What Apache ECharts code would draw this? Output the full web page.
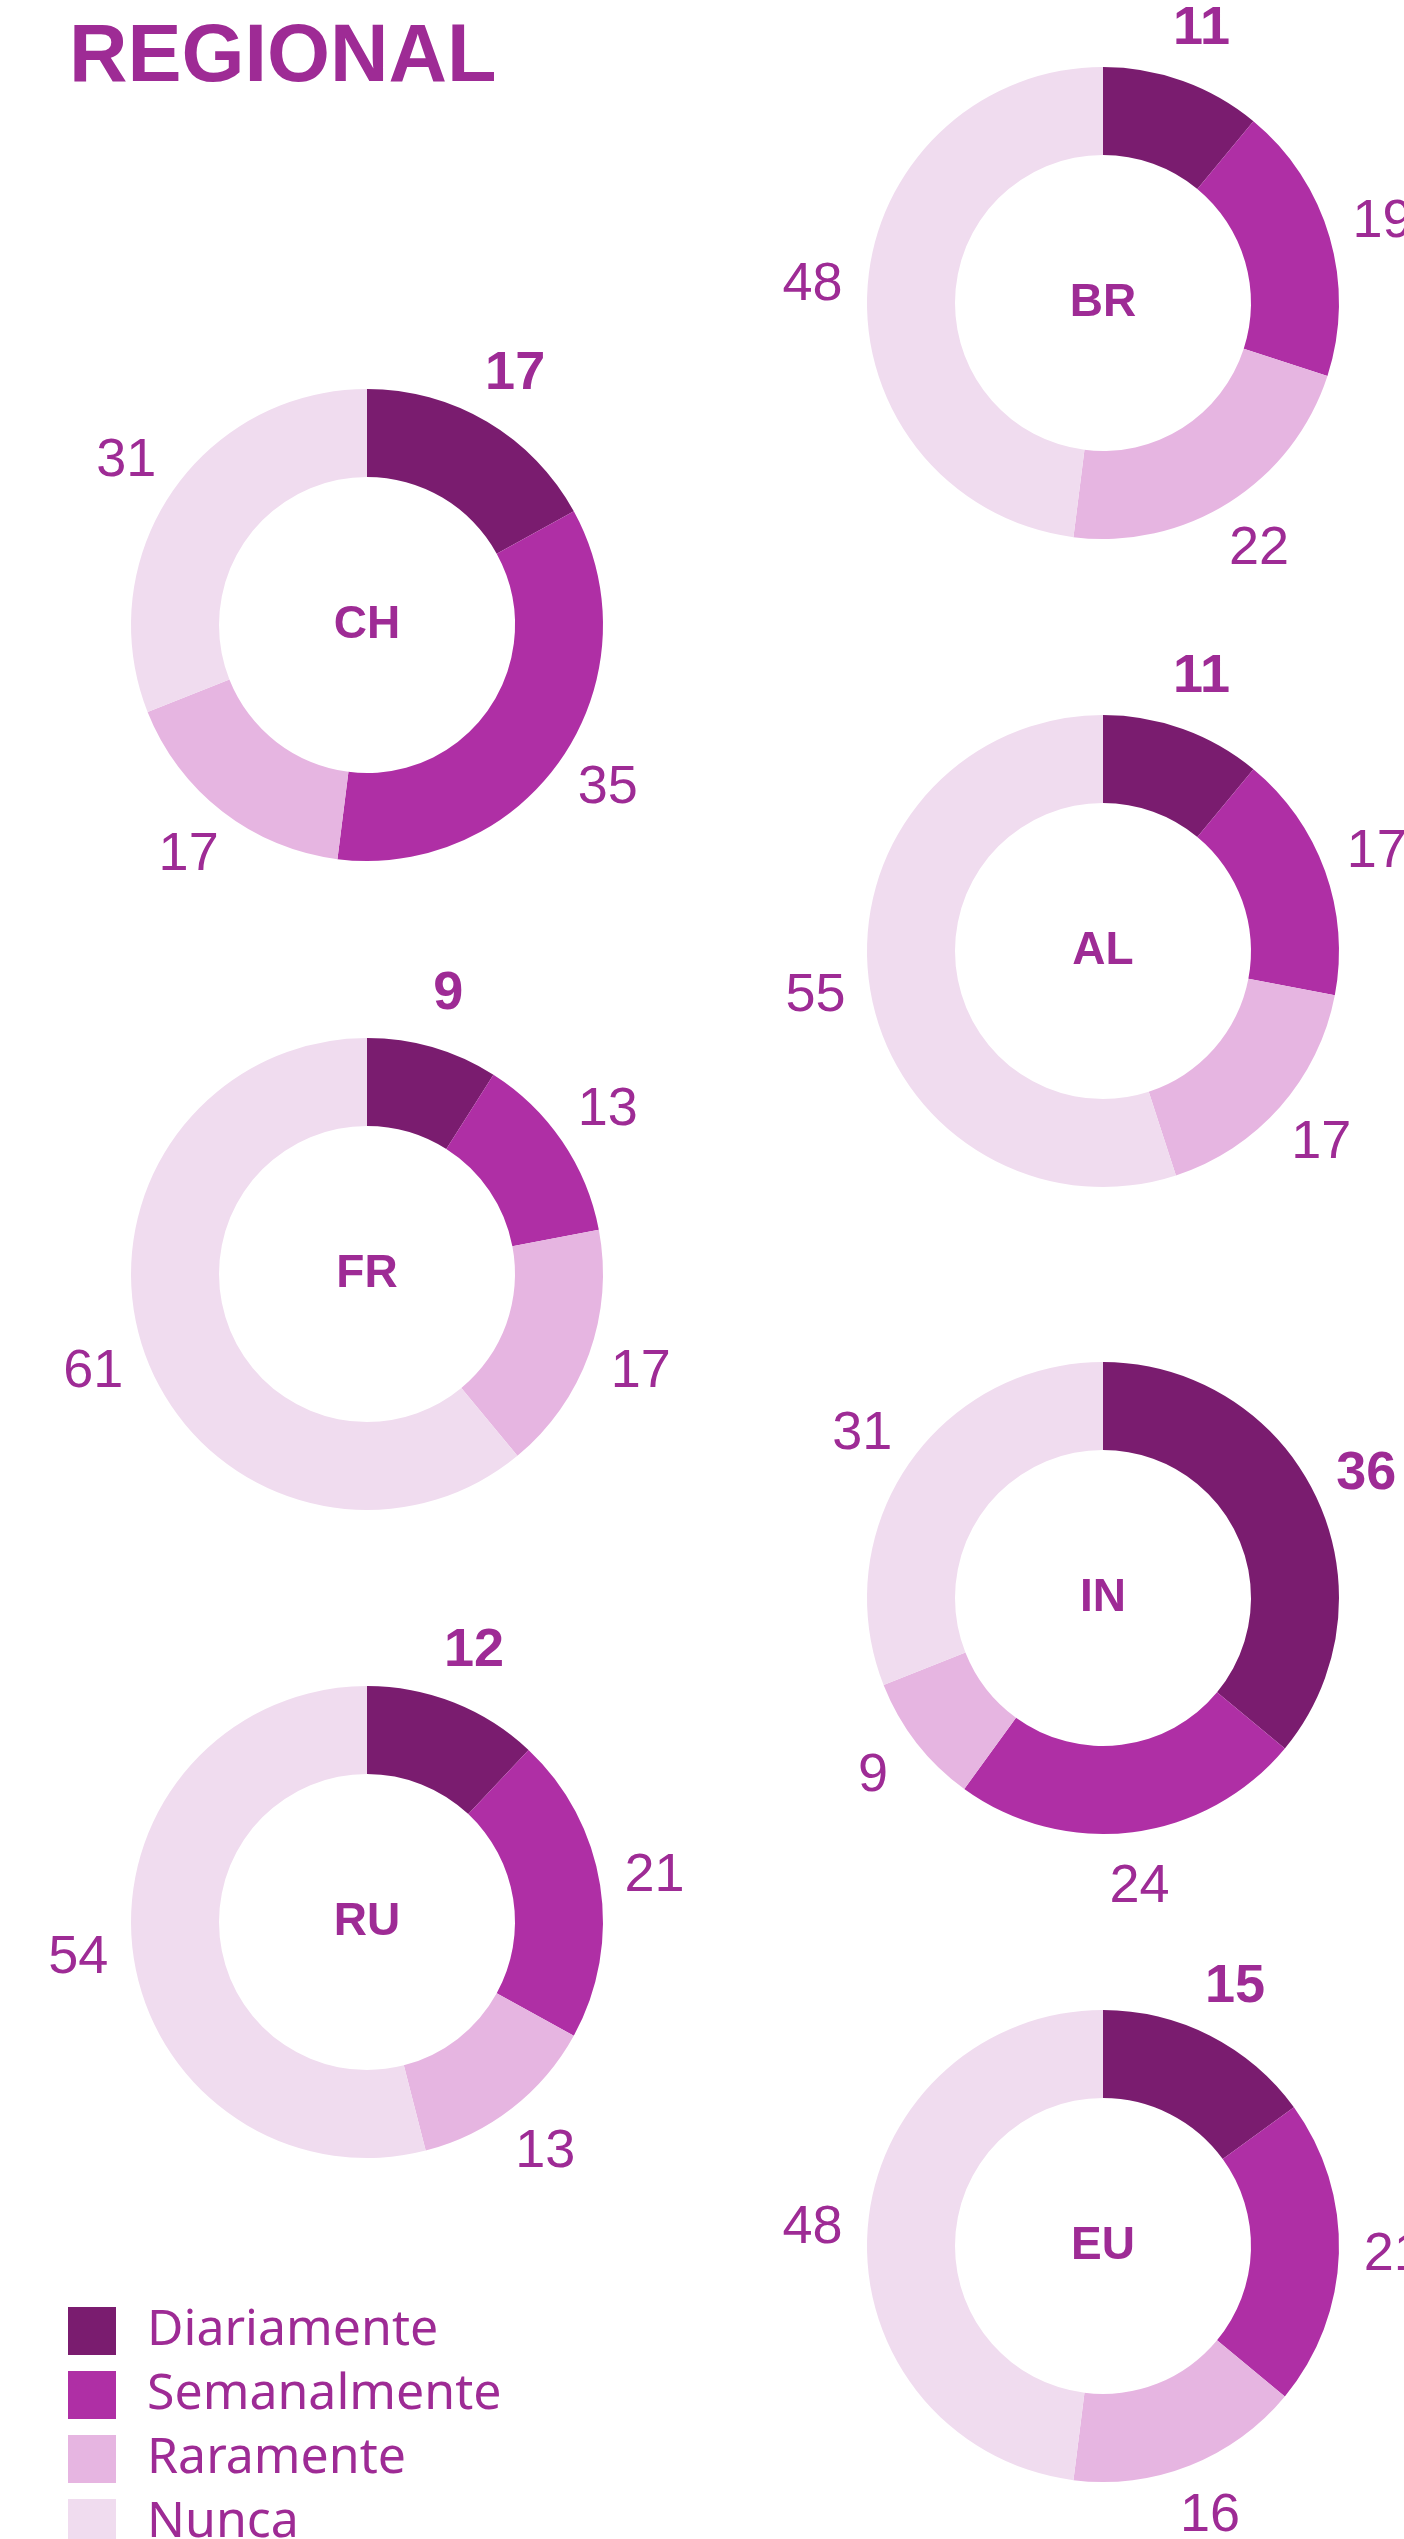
<!DOCTYPE html>
<html>
<head>
<meta charset="utf-8">
<title>Regional</title>
<script src="https://cdn.jsdelivr.net/npm/echarts@6/dist/echarts.min.js"></script>
<style>
  html, body { margin: 0; padding: 0; background: #ffffff; }
  #chart { width: 1404px; height: 2539px; }
</style>
</head>
<body>
<div id="chart"></div>
<script>
// answer categories (legend order)
const categories = ['Diariamente', 'Semanalmente', 'Raramente', 'Nunca']

// one donut per region, values in percent
const regions = ['CH', 'FR', 'RU', 'BR', 'AL', 'IN', 'EU']
const chValues = [17, 35, 17, 31]
const frValues = [9, 13, 17, 61]
const ruValues = [12, 21, 13, 54]
const brValues = [11, 19, 22, 48]
const alValues = [11, 17, 17, 55]
const inValues = [36, 24, 9, 31]
const euValues = [15, 21, 16, 48]
const regionValues = [chValues, frValues, ruValues, brValues, alValues, inValues, euValues]

const colors = ['#7a1c6f', '#af2fa5', '#e6b5e1', '#f0dcef']
const textColor = '#9e2b95'

// layout: two staggered columns
const leftX = 367
const rightX = 1103
const centers = [
  [leftX, 625], [leftX, 1274], [leftX, 1922],
  [rightX, 303], [rightX, 951], [rightX, 1598], [rightX, 2246]
]

const chart = echarts.init(document.getElementById('chart'))

const donutSeries = regions.map((name, r) => ({
  type: 'pie',
  name: name,
  center: centers[r],
  radius: [148, 236],
  startAngle: 90,
  clockwise: true,
  silent: true,
  avoidLabelOverlap: false,
  emphasis: { disabled: true },
  label: { show: false },
  labelLine: { show: false },
  data: regionValues[r].map((v, i) => ({
    name: categories[i],
    value: v,
    itemStyle: { color: colors[i] },
    label: i === 0 ? {
      show: true,
      position: 'center',
      formatter: '{a}',
      fontFamily: 'Liberation Sans',
      fontWeight: 'bold',
      fontSize: 46,
      color: textColor
    } : { show: false }
  }))
}))

// transparent ring that only carries the value labels around each donut
const labelSeries = regions.map((name, r) => ({
  type: 'pie',
  name: name + '-labels',
  center: centers[r],
  radius: [238, 338],
  startAngle: 90,
  clockwise: true,
  silent: true,
  avoidLabelOverlap: false,
  emphasis: { disabled: true },
  itemStyle: { color: 'rgba(0,0,0,0)' },
  labelLine: { show: false },
  label: {
    show: true,
    position: 'inside',
    formatter: '{c}',
    fontFamily: 'Liberation Sans',
    fontSize: 54,
    color: textColor
  },
  data: regionValues[r].map((v, i) => ({
    name: categories[i],
    value: v,
    label: { fontWeight: i === 0 ? 'bold' : 'normal' }
  }))
}))

// one legend block per row so the last (cut off) row does not wrap
const legends = categories.map((c, i) => ({
  data: [c],
  orient: 'vertical',
  left: 68,
  top: 2306 + i * 64,
  padding: 0,
  itemWidth: 48,
  itemHeight: 48,
  icon: 'rect',
  selectedMode: false,
  textStyle: {
    fontFamily: 'Noto Sans',
    fontSize: 50,
    lineHeight: 48,
    color: textColor,
    padding: [0, 0, 0, 26]
  }
}))

const option = {
  animation: false,
  color: colors,
  graphic: [
    {
      type: 'text',
      x: 69,
      y: 59,
      style: {
        text: 'REGIONAL',
        font: 'bold 81px "Liberation Sans"',
        fill: textColor,
        align: 'left',
        verticalAlign: 'middle',
        textAlign: 'left',
        textVerticalAlign: 'middle'
      }
    }
  ],
  legend: legends,
  series: [...donutSeries, ...labelSeries]
}

chart.setOption(option)
</script>
</body>
</html>
